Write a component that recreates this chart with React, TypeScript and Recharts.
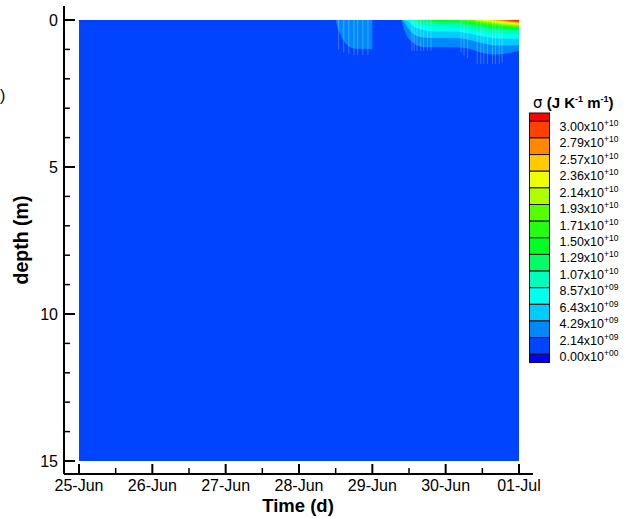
import React from 'react';
import { ComposedChart, Area, XAxis, YAxis, ReferenceLine } from 'recharts';

// time in days since 25-Jun 00:00
const times = [0, 3.50, 3.53, 3.56, 3.59, 3.64, 3.69, 3.76, 4.00, 4.00, 4.40, 4.43, 4.48, 4.52, 4.57, 4.61, 4.68, 4.77, 4.86, 5.00, 5.18, 5.27, 5.36, 5.45, 5.55, 5.64, 5.73, 5.82, 5.91, 6.00];
const fieldDepth = 15;

// depth (m) down to which sigma exceeds each contour level
const lvl1 = [0, 0, 0.30, 0.47, 0.64, 0.81, 0.92, 0.98, 0.99, 0, 0, 0.31, 0.59, 0.70, 0.80, 0.87, 0.92, 0.93, 0.93, 0.93, 0.93, 0.95, 1.00, 1.08, 1.15, 1.17, 1.17, 1.15, 1.10, 1.05];
const lvl2 = [0, 0, 0, 0, 0, 0, 0, 0, 0, 0, 0, 0.05, 0.25, 0.38, 0.50, 0.55, 0.59, 0.61, 0.61, 0.61, 0.62, 0.65, 0.70, 0.76, 0.82, 0.86, 0.87, 0.87, 0.86, 0.85];
const lvl3 = [0, 0, 0, 0, 0, 0, 0, 0, 0, 0, 0, 0, 0.03, 0.12, 0.22, 0.28, 0.33, 0.37, 0.39, 0.39, 0.40, 0.43, 0.48, 0.53, 0.58, 0.61, 0.63, 0.64, 0.64, 0.63];
const lvl4 = [0, 0, 0, 0, 0, 0, 0, 0, 0, 0, 0, 0, 0, 0.02, 0.07, 0.12, 0.17, 0.21, 0.23, 0.23, 0.25, 0.29, 0.34, 0.38, 0.42, 0.45, 0.47, 0.48, 0.48, 0.48];
const lvl5 = [0, 0, 0, 0, 0, 0, 0, 0, 0, 0, 0, 0, 0, 0, 0, 0.02, 0.05, 0.08, 0.10, 0.11, 0.13, 0.17, 0.21, 0.25, 0.29, 0.31, 0.33, 0.34, 0.35, 0.36];
const lvl6 = [0, 0, 0, 0, 0, 0, 0, 0, 0, 0, 0, 0, 0, 0, 0, 0, 0, 0, 0.03, 0.05, 0.07, 0.10, 0.14, 0.18, 0.22, 0.25, 0.27, 0.29, 0.30, 0.30];
const lvl7 = [0, 0, 0, 0, 0, 0, 0, 0, 0, 0, 0, 0, 0, 0, 0, 0, 0, 0, 0, 0, 0.02, 0.05, 0.09, 0.13, 0.17, 0.20, 0.22, 0.24, 0.26, 0.27];
const lvl8 = [0, 0, 0, 0, 0, 0, 0, 0, 0, 0, 0, 0, 0, 0, 0, 0, 0, 0, 0, 0, 0, 0.01, 0.04, 0.08, 0.12, 0.15, 0.18, 0.20, 0.22, 0.23];
const lvl9 = [0, 0, 0, 0, 0, 0, 0, 0, 0, 0, 0, 0, 0, 0, 0, 0, 0, 0, 0, 0, 0, 0, 0, 0.03, 0.07, 0.10, 0.13, 0.16, 0.18, 0.19];
const lvl10 = [0, 0, 0, 0, 0, 0, 0, 0, 0, 0, 0, 0, 0, 0, 0, 0, 0, 0, 0, 0, 0, 0, 0, 0, 0.03, 0.06, 0.09, 0.12, 0.14, 0.15];
const lvl11 = [0, 0, 0, 0, 0, 0, 0, 0, 0, 0, 0, 0, 0, 0, 0, 0, 0, 0, 0, 0, 0, 0, 0, 0, 0, 0.02, 0.05, 0.08, 0.10, 0.12];
const lvl12 = [0, 0, 0, 0, 0, 0, 0, 0, 0, 0, 0, 0, 0, 0, 0, 0, 0, 0, 0, 0, 0, 0, 0, 0, 0, 0, 0.02, 0.04, 0.07, 0.09];
const lvl13 = [0, 0, 0, 0, 0, 0, 0, 0, 0, 0, 0, 0, 0, 0, 0, 0, 0, 0, 0, 0, 0, 0, 0, 0, 0, 0, 0, 0.01, 0.04, 0.06];
const lvl14 = [0, 0, 0, 0, 0, 0, 0, 0, 0, 0, 0, 0, 0, 0, 0, 0, 0, 0, 0, 0, 0, 0, 0, 0, 0, 0, 0, 0, 0.005, 0.02];

const levelSeries = [lvl1, lvl2, lvl3, lvl4, lvl5, lvl6, lvl7, lvl8, lvl9, lvl10, lvl11, lvl12, lvl13, lvl14];

// faint mesh lines visible in the contoured patches (time, depth reached)
const meshTimes = [3.54, 3.61, 3.68, 3.75, 3.80, 3.87, 3.94, 4.54, 4.57, 4.61, 4.66, 4.70, 4.75, 4.80, 5.21, 5.25, 5.30, 5.43, 5.48, 5.52, 5.57, 5.64, 5.68, 5.73, 5.77];
const meshDepths = [1.0, 1.1, 1.15, 1.2, 1.2, 1.2, 1.2, 1.05, 1.05, 1.05, 1.05, 1.05, 1.05, 1.05, 1.1, 1.2, 1.3, 1.5, 1.5, 1.5, 1.5, 1.5, 1.5, 1.5, 1.45];

// colours: below 0, 0-L1 (base), then above each level
const belowColor = '#0000FF';
const baseColor = '#0044FF';
const levelColors = ['#0088FF', '#00CCFF', '#00FFEE', '#00FFBB', '#00FF66', '#00FF22', '#22FF11', '#55FF00', '#B0FF00', '#EEFF00', '#FFCC00', '#FF8800', '#FF4000', '#FF0000'];

// legend level labels (mantissa, exponent), bottom to top
const levelMantissa = ['0.00', '2.14', '4.29', '6.43', '8.57', '1.07', '1.29', '1.50', '1.71', '1.93', '2.14', '2.36', '2.57', '2.79', '3.00'];
const levelExponent = ['+00', '+09', '+09', '+09', '+09', '+10', '+10', '+10', '+10', '+10', '+10', '+10', '+10', '+10', '+10'];

const xTicks = [0, 0.5, 1, 1.5, 2, 2.5, 3, 3.5, 4, 4.5, 5, 5.5, 6];
const xTickLabels = ['25-Jun', '26-Jun', '27-Jun', '28-Jun', '29-Jun', '30-Jun', '01-Jul'];
const yTicks = [0, 1, 2, 3, 4, 5, 6, 7, 8, 9, 10, 11, 12, 13, 14, 15];

const FONT = 'Liberation Sans, Arial, Helvetica, sans-serif';

const data = times.map((t, i) => {
  const row: any = { t, base: fieldDepth };
  levelSeries.forEach((s, k) => {
    row['l' + (k + 1)] = s[i];
  });
  return row;
});

const XTick = (props: any) => {
  const { x, y, payload } = props;
  const v = payload.value;
  const major = Number.isInteger(v);
  return (
    <g>
      <line x1={x} x2={x} y1={y} y2={y - (major ? 10 : 6)} stroke="#000" strokeWidth={major ? 2 : 1.5} />
      {major && (
        <text x={x} y={y + 17} textAnchor="middle" fontSize={16} fontFamily={FONT} fill="#000">
          {xTickLabels[v]}
        </text>
      )}
    </g>
  );
};

const YTick = (props: any) => {
  const { x, y, payload } = props;
  const v = payload.value;
  const major = v % 5 === 0;
  return (
    <g>
      <line x1={x} x2={x + (major ? 11 : 6)} y1={y} y2={y} stroke="#000" strokeWidth={major ? 2 : 1.5} />
      {major && (
        <text x={x - 6} y={y + 5.5} textAnchor="end" fontSize={16} fontFamily={FONT} fill="#000">
          {v}
        </text>
      )}
    </g>
  );
};

const ColorBar = () => {
  const barX = 529.5;
  const barW = 20;
  const top = 113;
  const endH = 8.3;
  const midH = 16.64;
  const colorsTopDown = [...levelColors].reverse().concat([baseColor, belowColor]);
  const boxes = colorsTopDown.map((c, i) => {
    const y = i === 0 ? top : top + endH + (i - 1) * midH;
    const h = i === 0 || i === colorsTopDown.length - 1 ? endH : midH;
    return <rect key={c + i} x={barX} y={y} width={barW} height={h} fill={c} stroke="#111" strokeWidth={1} />;
  });
  const n = levelMantissa.length;
  const labels = levelMantissa.map((m, i) => {
    const k = n - 1 - i; // index from top
    const by = 131 + k * 16.43;
    return (
      <text key={'lab' + i} x={559.5} y={by} fontSize={12.5} fontFamily={FONT} fill="#000">
        <tspan>{m}x10</tspan>
        <tspan dy={-5} fontSize={8.5}>{levelExponent[i]}</tspan>
      </text>
    );
  });
  return (
    <g>
      <text x={533} y={108} fontSize={15} fontWeight="bold" fontFamily={FONT} fill="#000">
        <tspan fontWeight="normal" fontFamily="DejaVu Sans, sans-serif">σ</tspan>
        <tspan> (J K</tspan>
        <tspan dy={-6} fontSize={9}>-1</tspan>
        <tspan dy={6}> m</tspan>
        <tspan dy={-6} fontSize={9}>-1</tspan>
        <tspan dy={6}>)</tspan>
      </text>
      {boxes}
      {labels}
    </g>
  );
};

export default function App() {
  return (
    <div style={{ position: 'absolute', left: 0, top: 0, width: 629, height: 518, background: '#fff' }}>
      <ComposedChart width={629} height={518} data={data} margin={{ top: 6, right: 96, bottom: 14, left: 24 }}>
        <XAxis
          dataKey="t"
          type="number"
          domain={[0, 6]}
          ticks={xTicks}
          interval={0}
          padding={{ left: 15, right: 14 }}
          height={30}
          tickSize={0}
          tickMargin={0}
          tickLine={false}
          tick={<XTick />}
          axisLine={{ stroke: '#000', strokeWidth: 2 }}
          allowDataOverflow
        />
        <YAxis
          type="number"
          domain={[0, 15]}
          reversed
          ticks={yTicks}
          interval={0}
          padding={{ top: 14, bottom: 13 }}
          width={40}
          tickSize={0}
          tickMargin={0}
          tickLine={false}
          tick={<YTick />}
          axisLine={{ stroke: '#000', strokeWidth: 2 }}
          allowDataOverflow
        />
        <Area dataKey="base" type="linear" stroke="none" fill={baseColor} fillOpacity={1} isAnimationActive={false} dot={false} activeDot={false} />
        {levelColors.map((c, k) => (
          <Area
            key={'l' + (k + 1)}
            dataKey={'l' + (k + 1)}
            type="linear"
            stroke="none"
            fill={c}
            fillOpacity={1}
            isAnimationActive={false}
            dot={false}
            activeDot={false}
          />
        ))}
        {meshTimes.map((t, i) => (
          <ReferenceLine
            key={'mesh' + i}
            segment={[{ x: t, y: 0 }, { x: t, y: meshDepths[i] }]}
            stroke="#ffffff"
            strokeOpacity={0.25}
            strokeWidth={1}
          />
        ))}
      </ComposedChart>
      <svg width={629} height={518} style={{ position: 'absolute', left: 0, top: 0, pointerEvents: 'none' }}>
        <ColorBar />
        <text x={298} y={512} textAnchor="middle" fontSize={18.5} fontWeight="bold" fontFamily={FONT} fill="#000">Time (d)</text>
        <text x={28} y={240} transform="rotate(-90 28 240)" textAnchor="middle" fontSize={19.5} fontWeight="bold" fontFamily={FONT} fill="#000">depth (m)</text>
        <text x={0} y={101} fontSize={16} fontFamily={FONT} fill="#000">)</text>
      </svg>
    </div>
  );
}
